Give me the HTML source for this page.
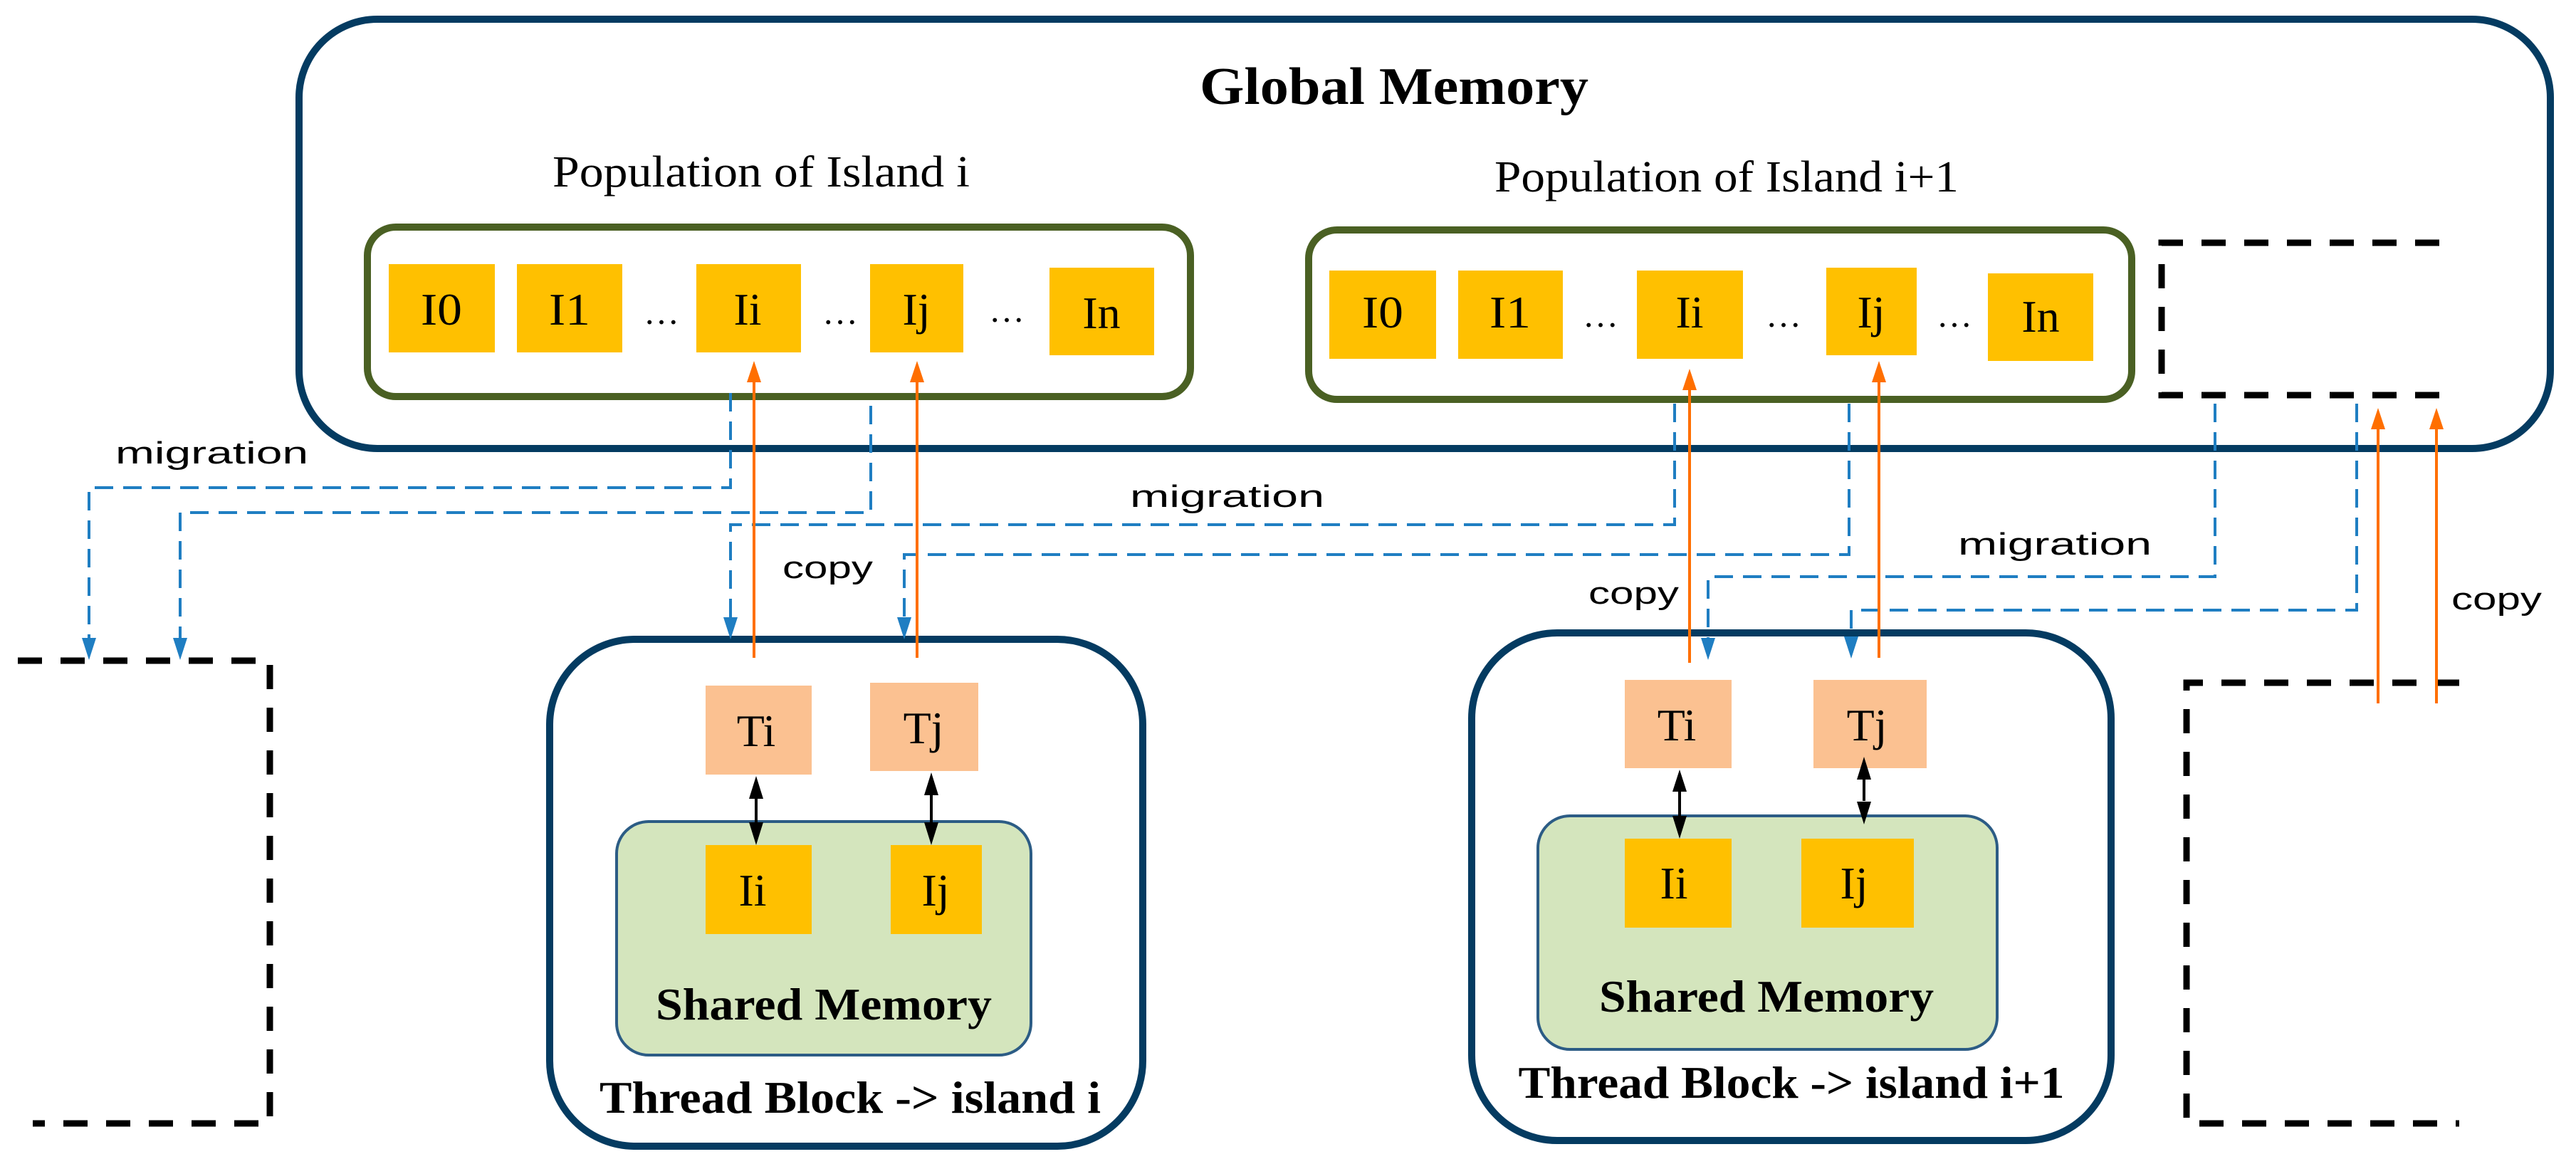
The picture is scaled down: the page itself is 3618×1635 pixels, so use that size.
<!DOCTYPE html>
<html><head><meta charset="utf-8"><style>html,body{margin:0;padding:0;background:#fff}svg{display:block}</style></head><body>
<svg xmlns="http://www.w3.org/2000/svg" width="3618" height="1635" viewBox="0 0 3618 1635">
<defs>
<marker id="ob" markerWidth="10" markerHeight="10" refX="5" refY="9" orient="auto-start-reverse" markerUnits="userSpaceOnUse" viewBox="0 0 10 10"></marker>
</defs>
<g font-family="Liberation Serif, serif">
<!-- Global memory -->
<rect x="420" y="27" width="3162" height="603" rx="110" fill="none" stroke="#043b61" stroke-width="10"/>
<text x="1958" y="146" font-size="74" font-weight="bold" text-anchor="middle" textLength="546" lengthAdjust="spacingAndGlyphs">Global Memory</text>
<text x="1069" y="262" font-size="62" text-anchor="middle" textLength="586" lengthAdjust="spacingAndGlyphs">Population of Island i</text>
<text x="2425" y="269" font-size="62" text-anchor="middle" textLength="652" lengthAdjust="spacingAndGlyphs">Population of Island i+1</text>
<rect x="516" y="319" width="1156" height="238" rx="40" fill="none" stroke="#4a6023" stroke-width="10"/>
<rect x="1838" y="323" width="1156" height="238" rx="40" fill="none" stroke="#4a6023" stroke-width="10"/>
<g fill="#ffc000">
<rect x="546" y="371" width="149" height="124"/><rect x="726" y="371" width="148" height="124"/>
<rect x="978" y="371" width="147" height="124"/><rect x="1222" y="371" width="131" height="124"/>
<rect x="1474" y="376" width="147" height="123"/>
<rect x="1867" y="380" width="150" height="124"/><rect x="2048" y="380" width="147" height="124"/>
<rect x="2299" y="380" width="149" height="124"/><rect x="2565" y="376" width="127" height="123"/>
<rect x="2792" y="384" width="148" height="123"/>
</g>
<g font-size="64" text-anchor="middle">
<text x="620" y="456" textLength="58" lengthAdjust="spacingAndGlyphs">I0</text>
<text x="800" y="456" textLength="58" lengthAdjust="spacingAndGlyphs">I1</text>
<text x="1050" y="456">Ii</text>
<text x="1287" y="456">Ij</text>
<text x="1547" y="461">In</text>
<text x="1942" y="460" textLength="58" lengthAdjust="spacingAndGlyphs">I0</text>
<text x="2121" y="460" textLength="58" lengthAdjust="spacingAndGlyphs">I1</text>
<text x="2373" y="460">Ii</text>
<text x="2628" y="460">Ij</text>
<text x="2866" y="466">In</text>
<text x="929" y="455" font-size="50">…</text>
<text x="1180" y="455" font-size="50">…</text>
<text x="1414" y="452" font-size="50">…</text>
<text x="2248" y="459" font-size="50">…</text>
<text x="2505" y="459" font-size="50">…</text>
<text x="2745" y="459" font-size="50">…</text>
</g>
<!-- dashed black boxes -->
<g fill="none" stroke="#000" stroke-width="9" stroke-dasharray="34 26">
<polyline points="3426,341 3036,341 3036,555 3426,555"/>
<polyline points="25,928 379,928 379,1578 46,1578"/>
<polyline points="3454,959 3071,959 3071,1578 3454,1578"/>
</g>
<!-- Thread blocks -->
<rect x="772" y="898" width="833" height="712" rx="120" fill="none" stroke="#043b61" stroke-width="10"/>
<rect x="2067" y="889" width="898" height="713" rx="120" fill="none" stroke="#043b61" stroke-width="10"/>
<rect x="866" y="1154" width="582" height="328" rx="45" fill="#d4e5bd" stroke="#2c5c85" stroke-width="4"/>
<rect x="2160" y="1146" width="645" height="328" rx="45" fill="#d4e5bd" stroke="#2c5c85" stroke-width="4"/>
<g fill="#fbc191">
<rect x="991" y="963" width="149" height="125"/><rect x="1222" y="959" width="152" height="124"/>
<rect x="2282" y="955" width="150" height="124"/><rect x="2547" y="955" width="159" height="124"/>
</g>
<g fill="#ffc000">
<rect x="991" y="1187" width="149" height="125"/><rect x="1251" y="1187" width="128" height="125"/>
<rect x="2282" y="1178" width="150" height="125"/><rect x="2530" y="1178" width="158" height="125"/>
</g>
<g font-size="64" text-anchor="middle">
<text x="1062" y="1048">Ti</text><text x="1297" y="1044">Tj</text>
<text x="1057" y="1272">Ii</text><text x="1314" y="1272">Ij</text>
<text x="2355" y="1040">Ti</text><text x="2622" y="1040">Tj</text>
<text x="2351" y="1262">Ii</text><text x="2604" y="1262">Ij</text>
</g>
<g font-size="64" font-weight="bold" text-anchor="middle">
<text x="1157" y="1432" textLength="472" lengthAdjust="spacingAndGlyphs">Shared Memory</text>
<text x="2481" y="1421" textLength="470" lengthAdjust="spacingAndGlyphs">Shared Memory</text>
<text x="1194" y="1563" textLength="704" lengthAdjust="spacingAndGlyphs">Thread Block -&gt; island i</text>
<text x="2516" y="1542" textLength="767" lengthAdjust="spacingAndGlyphs">Thread Block -&gt; island i+1</text>
</g>
</g>
<!-- black double arrows -->
<g stroke="#000" stroke-width="4">
<line x1="1062" y1="1120" x2="1062" y2="1155"/><line x1="1308" y1="1115" x2="1308" y2="1155"/>
<line x1="2359" y1="1110" x2="2359" y2="1146"/><line x1="2618" y1="1095" x2="2618" y2="1125"/>
</g>
<g fill="#000">
<polygon points="1062,1090 1052,1122 1072,1122"/><polygon points="1062,1187 1052,1155 1072,1155"/>
<polygon points="1308,1085 1298,1117 1318,1117"/><polygon points="1308,1187 1298,1155 1318,1155"/>
<polygon points="2359,1081 2349,1112 2369,1112"/><polygon points="2359,1178 2349,1146 2369,1146"/>
<polygon points="2618,1063 2608,1095 2628,1095"/><polygon points="2618,1158 2608,1126 2628,1126"/>
</g>
<!-- blue migration lines -->
<g fill="none" stroke="#1f7ec2" stroke-width="4" stroke-dasharray="26 14">
<polyline points="1026,552 1026,685 125,685 125,900"/>
<polyline points="1223,570 1223,720 253,720 253,900"/>
<polyline points="2352,567 2352,737 1026,737 1026,870"/>
<polyline points="2597,567 2597,779 1270,779 1270,870"/>
<polyline points="3111,567 3111,810 2399,810 2399,900"/>
<polyline points="3310,567 3310,857 2600,857 2600,898"/>
</g>
<g fill="#1f7ec2">
<polygon points="125,927 115,896 135,896"/><polygon points="253,927 243,896 263,896"/>
<polygon points="1026,898 1016,867 1036,867"/><polygon points="1270,898 1260,867 1280,867"/>
<polygon points="2399,927 2389,896 2409,896"/><polygon points="2600,925 2590,894 2610,894"/>
</g>
<!-- orange copy arrows -->
<g stroke="#ff6f00" stroke-width="4">
<line x1="1059" y1="535" x2="1059" y2="924"/><line x1="1288" y1="535" x2="1288" y2="924"/>
<line x1="2373" y1="545" x2="2373" y2="931"/><line x1="2639" y1="535" x2="2639" y2="924"/>
<line x1="3340" y1="600" x2="3340" y2="988"/><line x1="3422" y1="600" x2="3422" y2="988"/>
</g>
<g fill="#ff6f00">
<polygon points="1059,507 1049,537 1069,537"/><polygon points="1288,507 1278,537 1298,537"/>
<polygon points="2373,518 2363,548 2383,548"/><polygon points="2639,507 2629,537 2649,537"/>
<polygon points="3340,573 3330,603 3350,603"/><polygon points="3422,573 3412,603 3432,603"/>
</g>
<g font-family="Liberation Sans, sans-serif" font-size="44" fill="#000">
<text x="162" y="651" textLength="271" lengthAdjust="spacingAndGlyphs">migration</text>
<text x="1587" y="712" textLength="273" lengthAdjust="spacingAndGlyphs">migration</text>
<text x="2750" y="779" textLength="272" lengthAdjust="spacingAndGlyphs">migration</text>
<text x="1099" y="812" textLength="127" lengthAdjust="spacingAndGlyphs">copy</text>
<text x="2231" y="848" textLength="127" lengthAdjust="spacingAndGlyphs">copy</text>
<text x="3443" y="856" textLength="127" lengthAdjust="spacingAndGlyphs">copy</text>
</g>
</svg>
</body></html>
